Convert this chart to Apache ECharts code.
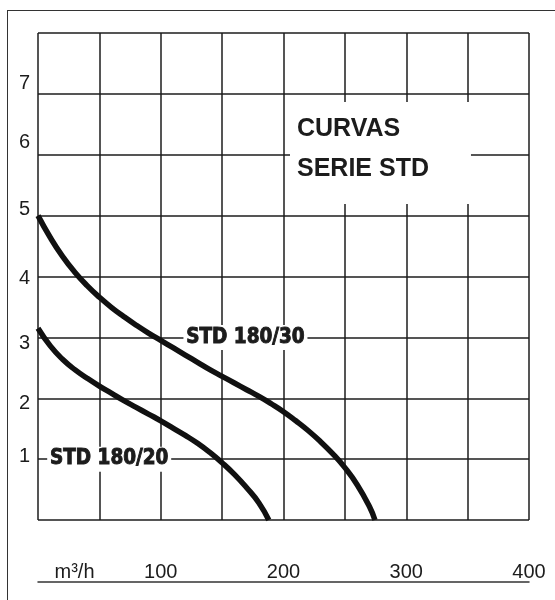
<!DOCTYPE html>
<html>
<head>
<meta charset="utf-8">
<script src="https://cdn.jsdelivr.net/npm/echarts@6/dist/echarts.min.js"></script>
<style>
  html, body { margin: 0; padding: 0; background: #fff; }
  #frame { position: absolute; left: 7px; top: 10px; width: 600px; height: 640px;
           border-left: 1.5px solid #333; border-top: 1.5px solid #333; }
  #chart { position: absolute; left: 0; top: 0; width: 555px; height: 600px; }
</style>
</head>
<body>
<div id="frame"></div>
<div id="chart"></div>
<script>
// ---- data (flow m³/h, head) ----
const std30Flow = [0, 10, 20, 30, 40, 50, 60, 70, 80, 90, 100, 110, 120, 130, 140, 150, 160, 170, 180, 190, 200, 210, 220, 230, 240, 250, 260, 270, 274.5];
const std30Head = [5.0, 4.64, 4.33, 4.07, 3.85, 3.66, 3.49, 3.34, 3.20, 3.07, 2.95, 2.83, 2.71, 2.59, 2.47, 2.36, 2.25, 2.14, 2.03, 1.91, 1.78, 1.63, 1.47, 1.29, 1.09, 0.86, 0.58, 0.22, 0];
const std20Flow = [0, 10, 20, 30, 40, 50, 60, 70, 80, 90, 100, 110, 120, 130, 140, 150, 160, 170, 180, 188];
const std20Head = [3.15, 2.86, 2.64, 2.47, 2.33, 2.20, 2.08, 1.96, 1.85, 1.74, 1.63, 1.51, 1.39, 1.26, 1.11, 0.94, 0.75, 0.53, 0.28, 0];
const seriesNames = ['STD 180/30', 'STD 180/20'];
const xTickLabels = { 0: 'm³/h', 100: '100', 200: '200', 300: '300', 400: '400' };
const yTickLabels = ['', '1', '2', '3', '4', '5', '6', '7', ''];
const titleLines = ['CURVAS', 'SERIE STD'];
// label anchors (flow, head) for the curve names
const std30LabelAt = [169, 3];
const std20LabelAt = [58, 1];

const SANS = "'Liberation Sans', Arial, Helvetica, sans-serif";
const COND = "'DejaVu Sans Condensed', 'Liberation Sans Narrow', sans-serif";
const INK = '#1c1c1c';

function zip(a, b) { return a.map((v, i) => [v, b[i]]); }

// per-label vertical shift (px, upward) of the y tick labels, as placed in the reference
const yShift = { 1: 3, 2: -5, 3: -6, 4: -2, 5: 6, 6: 12, 7: 10 };
const yRich = {};
Object.keys(yShift).forEach(k => {
  const s = yShift[k];
  yRich['s' + k] = {
    fontFamily: SANS, fontSize: 20, color: INK,
    padding: s >= 0 ? [0, 0, 2 * s, 0] : [-2 * s, 0, 0, 0]
  };
});

function nameMark(name, at) {
  return {
    symbol: 'rect',
    symbolSize: [124, 25],
    itemStyle: { color: '#fff' },
    silent: true,
    label: {
      show: true, position: 'inside', formatter: name,
      fontFamily: COND, fontWeight: 'bold', fontSize: 20.5, color: INK,
      textBorderColor: INK, textBorderWidth: 0.9
    },
    data: [{ coord: at, name: name }]
  };
}

const chart = echarts.init(document.getElementById('chart'), null, { renderer: 'canvas' });
chart.setOption({
  animation: false,
  backgroundColor: 'transparent',
  title: {
    text: titleLines.join('\n'),
    left: 290, top: 102,
    padding: [7, 42, 15, 7],
    backgroundColor: '#fff',
    textStyle: {
      fontFamily: SANS, fontWeight: 'bold', fontSize: 25, lineHeight: 40, color: INK
    }
  },
  grid: { left: 38, top: 33, right: 26, bottom: 80, containLabel: false },
  xAxis: {
    type: 'value', min: 0, max: 400, interval: 50,
    position: 'bottom', offset: 62,
    axisLine: { show: true, onZero: false, lineStyle: { color: '#333', width: 1.5 } },
    axisTick: { show: false },
    splitLine: { show: true, lineStyle: { color: INK, width: 1.5 } },
    axisLabel: {
      inside: true, margin: 0, showMinLabel: true, showMaxLabel: true,
      fontFamily: SANS, fontSize: 20, color: INK,
      formatter: v => {
        const t = xTickLabels[v];
        if (!t) return '';
        return v === 0 ? '{u|' + t + '}' : t;
      },
      rich: { u: { fontFamily: SANS, fontSize: 20, color: INK, padding: [0, 0, 0, 73] } }
    }
  },
  yAxis: {
    type: 'value', min: 0, max: 8, interval: 1,
    axisLine: { show: false },
    axisTick: { show: false },
    splitLine: { show: true, lineStyle: { color: INK, width: 1.5 } },
    axisLabel: {
      margin: 8, showMinLabel: true, showMaxLabel: true,
      fontFamily: SANS, fontSize: 20, color: INK,
      formatter: v => {
        const t = yTickLabels[v];
        return t ? '{s' + v + '|' + t + '}' : '';
      },
      rich: yRich
    }
  },
  series: [
    {
      name: seriesNames[0], type: 'line', data: zip(std30Flow, std30Head),
      smooth: 0.5, showSymbol: false, symbol: 'none',
      lineStyle: { color: '#111', width: 5.5, cap: 'butt' },
      markPoint: nameMark(seriesNames[0], std30LabelAt)
    },
    {
      name: seriesNames[1], type: 'line', data: zip(std20Flow, std20Head),
      smooth: 0.5, showSymbol: false, symbol: 'none',
      lineStyle: { color: '#111', width: 5.5, cap: 'butt' },
      markPoint: nameMark(seriesNames[1], std20LabelAt)
    }
  ]
});
</script>
</body>
</html>
